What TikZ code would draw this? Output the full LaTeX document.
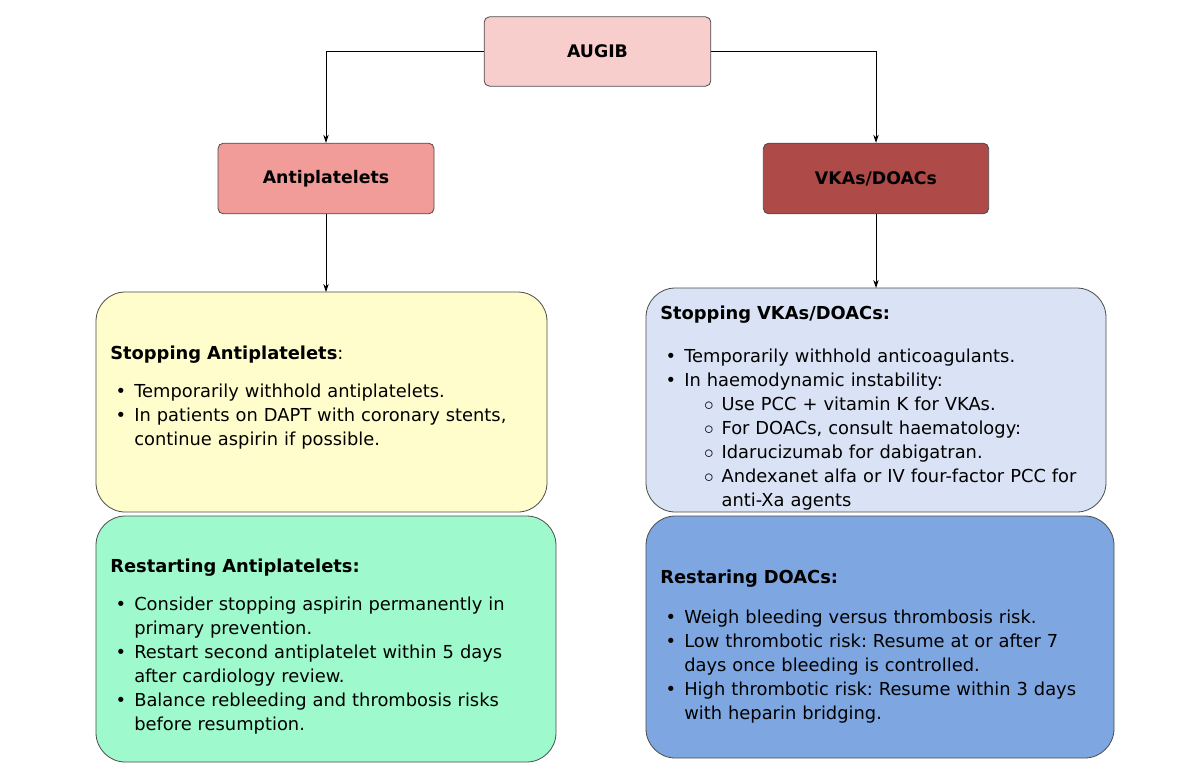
\documentclass[tikz,border=0pt]{standalone}
\usetikzlibrary{arrows.meta}
\usepackage{fontspec}
\setmainfont{DejaVu Sans}
\frenchspacing
\usepackage{enumitem}
\setlist[itemize]{leftmargin=18pt,labelsep=6pt,itemsep=0pt,topsep=0pt,parsep=0pt,partopsep=0pt}
\setlist[itemize,1]{label=\textbullet}
\setlist[itemize,2]{label=$\circ$,leftmargin=28pt,labelsep=6pt}
\begin{document}
\begin{tikzpicture}[x=0.75pt,y=-0.75pt,
  hd/.style={draw=black!70,line width=0.6pt,rounded corners=4pt,font=\bfseries\fontsize{13}{15}\selectfont},
  big/.style={draw=black!70,line width=0.6pt,rounded corners=22pt},
  txt/.style={anchor=north west,inner sep=0pt,align=left,font=\fontsize{13.4}{18}\selectfont},
  arr/.style={-{Stealth[length=6pt,width=4pt]},line width=0.6pt}]
\useasboundingbox (0,0) rectangle (1200,776);
\definecolor{c1}{HTML}{F8CECC}\definecolor{c2}{HTML}{F19C99}\definecolor{c3}{HTML}{AE4A47}
\definecolor{c4}{HTML}{FFFDCC}\definecolor{c5}{HTML}{9EFACC}\definecolor{c6}{HTML}{DAE3F5}\definecolor{c7}{HTML}{7EA6E0}
\node[hd,fill=c1,minimum width=170pt,minimum height=52pt] (aug) at (597.5,51.5) {AUGIB};
\node[hd,fill=c2,minimum width=162pt,minimum height=53pt] (anti) at (326,178.5) {Antiplatelets};
\node[hd,fill=c3,minimum width=169pt,minimum height=53pt] (vka) at (876,178.5) {VKAs/DOACs};
\draw[big,fill=c4] (96,292) rectangle (547,512); \coordinate (s1) at (326,292);
\draw[big,fill=c5] (96,516) rectangle (556,762);
\draw[big,fill=c6] (646,288) rectangle (1106,512); \coordinate (s2) at (876,288);
\draw[big,fill=c7] (646,516) rectangle (1114,758);
\draw[arr] (aug.west) -| (anti.north);
\draw[arr] (aug.east) -| (vka.north);
\draw[arr] (anti.south) -- (s1);
\draw[arr] (vka.south) -- (s2);
\node[txt,text width=320pt] (t1) at (110,346) {\textbf{Stopping Antiplatelets}:\\[10pt]
\begin{itemize}\item Temporarily withhold antiplatelets.\item In patients on DAPT with coronary stents, continue aspirin if possible.\end{itemize}};
\node[txt,text width=312pt] (t2) at (110,559) {\textbf{Restarting Antiplatelets:}\\[10pt]
\begin{itemize}\item Consider stopping aspirin permanently in primary prevention.\item Restart second antiplatelet within 5 days after cardiology review.\item Balance rebleeding and thrombosis risks before resumption.\end{itemize}};
\node[txt,text width=325pt] (t3) at (660,306) {\textbf{Stopping VKAs/DOACs:}\\[14pt]
\begin{itemize}\item Temporarily withhold anticoagulants.\item In haemodynamic instability:
\begin{itemize}\item Use PCC + vitamin K for VKAs.\item For DOACs, consult haematology:\item Idarucizumab for dabigatran.\item Andexanet alfa or IV four-factor PCC for anti-Xa agents\end{itemize}\end{itemize}};
\node[txt,text width=325pt] (t4) at (660,570) {\textbf{Restaring DOACs:}\\[12pt]
\begin{itemize}\item Weigh bleeding versus thrombosis risk.\item Low thrombotic risk: Resume at or after 7 days once bleeding is controlled.\item High thrombotic risk: Resume within 3 days with heparin bridging.\end{itemize}};
\end{tikzpicture}
\end{document}
